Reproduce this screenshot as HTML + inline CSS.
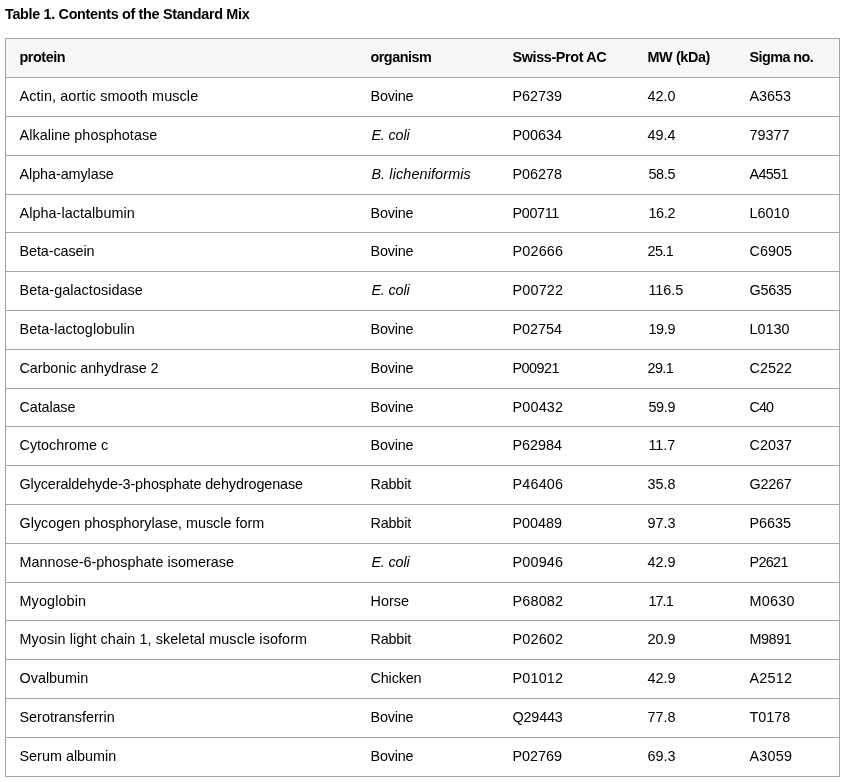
<!DOCTYPE html>
<html><head><meta charset="utf-8"><style>
html,body{margin:0;padding:0;background:#fff;}
body{width:845px;height:782px;position:relative;overflow:hidden;}
#w{position:absolute;left:0;top:0;width:845px;height:782px;will-change:transform;font-family:"Liberation Sans",sans-serif;color:#000;}
.t{position:absolute;white-space:nowrap;font-size:14.4px;line-height:20px;}
.b{font-weight:bold;}
.i{font-style:italic;}
.h{position:absolute;left:5px;width:835px;height:1px;background:#a4a5a9;}
.v{position:absolute;top:38px;width:1px;height:739px;background:#a4a5a9;}

</style></head><body><div id="w">
<div id="title" class="t b" style="left:5px;top:4px;letter-spacing:-0.325px;font-size:14.4px;color:#000">Table 1. Contents of the Standard Mix</div>
<div style="position:absolute;left:6px;top:39px;width:833px;height:38px;background:#f7f7f7"></div>
<div class="h" style="top:38px"></div>
<div class="h" style="top:77px"></div>
<div class="h" style="top:116px"></div>
<div class="h" style="top:155px"></div>
<div class="h" style="top:194px"></div>
<div class="h" style="top:232px"></div>
<div class="h" style="top:271px"></div>
<div class="h" style="top:310px"></div>
<div class="h" style="top:349px"></div>
<div class="h" style="top:388px"></div>
<div class="h" style="top:426px"></div>
<div class="h" style="top:465px"></div>
<div class="h" style="top:504px"></div>
<div class="h" style="top:543px"></div>
<div class="h" style="top:582px"></div>
<div class="h" style="top:620px"></div>
<div class="h" style="top:659px"></div>
<div class="h" style="top:698px"></div>
<div class="h" style="top:737px"></div>
<div class="h" style="top:776px"></div>
<div class="v" style="left:5px"></div><div class="v" style="left:839px"></div>
<div id="h0" class="t b" style="left:19.5px;top:47px;letter-spacing:-0.45px">protein</div>
<div id="h1" class="t b" style="left:370.5px;top:47px;letter-spacing:-0.514px">organism</div>
<div id="h2" class="t b" style="left:512.5px;top:47px;letter-spacing:-0.375px">Swiss-Prot AC</div>
<div id="h3" class="t b" style="left:647.5px;top:47px;letter-spacing:-0.386px">MW (kDa)</div>
<div id="h4" class="t b" style="left:749.5px;top:47px;letter-spacing:-0.562px">Sigma no.</div>
<div id="r0c0" class="t " style="left:19.5px;top:86px;letter-spacing:0.104px">Actin, aortic smooth muscle</div>
<div id="r0c1" class="t " style="left:370.5px;top:86px;letter-spacing:-0.18px">Bovine</div>
<div id="r0c2" class="t " style="left:512.5px;top:86px">P62739</div>
<div id="r0c3" class="t " style="left:647.5px;top:86px">42.0</div>
<div id="r0c4" class="t " style="left:749.5px;top:86px">A3653</div>
<div id="r1c0" class="t " style="left:19.5px;top:125px;letter-spacing:0.047px">Alkaline phosphotase</div>
<div id="r1c1" class="t i" style="left:371.4px;top:125px;letter-spacing:-0.15px">E. coli</div>
<div id="r1c2" class="t " style="left:512.5px;top:125px">P00634</div>
<div id="r1c3" class="t " style="left:647.5px;top:125px">49.4</div>
<div id="r1c4" class="t " style="left:749.5px;top:125px">79377</div>
<div id="r2c0" class="t " style="left:19.5px;top:164px;letter-spacing:-0.075px">Alpha-amylase</div>
<div id="r2c1" class="t i" style="left:371.4px;top:164px;letter-spacing:0.12px">B. licheniformis</div>
<div id="r2c2" class="t " style="left:512.5px;top:164px">P06278</div>
<div id="r2c3" class="t " style="left:648.4px;top:164px;letter-spacing:-0.3px">58.5</div>
<div id="r2c4" class="t " style="left:749.5px;top:164px;letter-spacing:-0.675px">A4551</div>
<div id="r3c0" class="t " style="left:19.5px;top:203px;letter-spacing:0.056px">Alpha-lactalbumin</div>
<div id="r3c1" class="t " style="left:370.5px;top:203px;letter-spacing:-0.18px">Bovine</div>
<div id="r3c2" class="t " style="left:512.5px;top:203px;letter-spacing:-0.36px">P00711</div>
<div id="r3c3" class="t " style="left:648.4px;top:203px;letter-spacing:-0.3px">16.2</div>
<div id="r3c4" class="t " style="left:749.5px;top:203px">L6010</div>
<div id="r4c0" class="t " style="left:19.5px;top:241px;letter-spacing:-0.09px">Beta-casein</div>
<div id="r4c1" class="t " style="left:370.5px;top:241px;letter-spacing:-0.18px">Bovine</div>
<div id="r4c2" class="t " style="left:512.5px;top:241px;letter-spacing:0.18px">P02666</div>
<div id="r4c3" class="t " style="left:647.5px;top:241px;letter-spacing:-0.6px">25.1</div>
<div id="r4c4" class="t " style="left:749.5px;top:241px">C6905</div>
<div id="r5c0" class="t " style="left:19.5px;top:280px;letter-spacing:0.053px">Beta-galactosidase</div>
<div id="r5c1" class="t i" style="left:371.4px;top:280px;letter-spacing:-0.15px">E. coli</div>
<div id="r5c2" class="t " style="left:512.5px;top:280px;letter-spacing:0.18px">P00722</div>
<div id="r5c3" class="t " style="left:648.4px;top:280px">116.5</div>
<div id="r5c4" class="t " style="left:749.5px;top:280px;letter-spacing:-0.225px">G5635</div>
<div id="r6c0" class="t " style="left:19.5px;top:319px;letter-spacing:0.053px">Beta-lactoglobulin</div>
<div id="r6c1" class="t " style="left:370.5px;top:319px;letter-spacing:-0.18px">Bovine</div>
<div id="r6c2" class="t " style="left:512.5px;top:319px">P02754</div>
<div id="r6c3" class="t " style="left:648.4px;top:319px;letter-spacing:-0.3px">19.9</div>
<div id="r6c4" class="t " style="left:749.5px;top:319px">L0130</div>
<div id="r7c0" class="t " style="left:19.5px;top:358px;letter-spacing:-0.095px">Carbonic anhydrase 2</div>
<div id="r7c1" class="t " style="left:370.5px;top:358px;letter-spacing:-0.18px">Bovine</div>
<div id="r7c2" class="t " style="left:512.5px;top:358px;letter-spacing:-0.54px">P00921</div>
<div id="r7c3" class="t " style="left:647.5px;top:358px;letter-spacing:-0.6px">29.1</div>
<div id="r7c4" class="t " style="left:749.5px;top:358px">C2522</div>
<div id="r8c0" class="t " style="left:19.5px;top:397px;letter-spacing:-0.129px">Catalase</div>
<div id="r8c1" class="t " style="left:370.5px;top:397px;letter-spacing:-0.18px">Bovine</div>
<div id="r8c2" class="t " style="left:512.5px;top:397px;letter-spacing:0.18px">P00432</div>
<div id="r8c3" class="t " style="left:648.4px;top:397px;letter-spacing:-0.3px">59.9</div>
<div id="r8c4" class="t " style="left:749.5px;top:397px;letter-spacing:-0.9px">C40</div>
<div id="r9c0" class="t " style="left:19.5px;top:435px">Cytochrome c</div>
<div id="r9c1" class="t " style="left:370.5px;top:435px;letter-spacing:-0.18px">Bovine</div>
<div id="r9c2" class="t " style="left:512.5px;top:435px">P62984</div>
<div id="r9c3" class="t " style="left:648.4px;top:435px">11.7</div>
<div id="r9c4" class="t " style="left:749.5px;top:435px">C2037</div>
<div id="r10c0" class="t " style="left:19.5px;top:474px;letter-spacing:-0.115px">Glyceraldehyde-3-phosphate dehydrogenase</div>
<div id="r10c1" class="t " style="left:370.5px;top:474px;letter-spacing:-0.18px">Rabbit</div>
<div id="r10c2" class="t " style="left:512.5px;top:474px;letter-spacing:0.18px">P46406</div>
<div id="r10c3" class="t " style="left:647.5px;top:474px">35.8</div>
<div id="r10c4" class="t " style="left:749.5px;top:474px;letter-spacing:-0.225px">G2267</div>
<div id="r11c0" class="t " style="left:19.5px;top:513px">Glycogen phosphorylase, muscle form</div>
<div id="r11c1" class="t " style="left:370.5px;top:513px;letter-spacing:-0.18px">Rabbit</div>
<div id="r11c2" class="t " style="left:512.5px;top:513px">P00489</div>
<div id="r11c3" class="t " style="left:647.5px;top:513px">97.3</div>
<div id="r11c4" class="t " style="left:749.5px;top:513px">P6635</div>
<div id="r12c0" class="t " style="left:19.5px;top:552px">Mannose-6-phosphate isomerase</div>
<div id="r12c1" class="t i" style="left:371.4px;top:552px;letter-spacing:-0.15px">E. coli</div>
<div id="r12c2" class="t " style="left:512.5px;top:552px;letter-spacing:0.18px">P00946</div>
<div id="r12c3" class="t " style="left:647.5px;top:552px">42.9</div>
<div id="r12c4" class="t " style="left:749.5px;top:552px;letter-spacing:-0.675px">P2621</div>
<div id="r13c0" class="t " style="left:19.5px;top:591px;letter-spacing:0.113px">Myoglobin</div>
<div id="r13c1" class="t " style="left:370.5px;top:591px">Horse</div>
<div id="r13c2" class="t " style="left:512.5px;top:591px;letter-spacing:0.18px">P68082</div>
<div id="r13c3" class="t " style="left:648.4px;top:591px;letter-spacing:-0.9px">17.1</div>
<div id="r13c4" class="t " style="left:749.5px;top:591px;letter-spacing:0.225px">M0630</div>
<div id="r14c0" class="t " style="left:19.5px;top:629px;letter-spacing:0.082px">Myosin light chain 1, skeletal muscle isoform</div>
<div id="r14c1" class="t " style="left:370.5px;top:629px;letter-spacing:-0.18px">Rabbit</div>
<div id="r14c2" class="t " style="left:512.5px;top:629px;letter-spacing:0.18px">P02602</div>
<div id="r14c3" class="t " style="left:647.5px;top:629px">20.9</div>
<div id="r14c4" class="t " style="left:749.5px;top:629px;letter-spacing:-0.45px">M9891</div>
<div id="r15c0" class="t " style="left:19.5px;top:668px">Ovalbumin</div>
<div id="r15c1" class="t " style="left:370.5px;top:668px;letter-spacing:-0.15px">Chicken</div>
<div id="r15c2" class="t " style="left:512.5px;top:668px;letter-spacing:0.18px">P01012</div>
<div id="r15c3" class="t " style="left:647.5px;top:668px">42.9</div>
<div id="r15c4" class="t " style="left:749.5px;top:668px;letter-spacing:0.225px">A2512</div>
<div id="r16c0" class="t " style="left:19.5px;top:707px">Serotransferrin</div>
<div id="r16c1" class="t " style="left:370.5px;top:707px;letter-spacing:-0.18px">Bovine</div>
<div id="r16c2" class="t " style="left:512.5px;top:707px;letter-spacing:-0.18px">Q29443</div>
<div id="r16c3" class="t " style="left:647.5px;top:707px">77.8</div>
<div id="r16c4" class="t " style="left:749.5px;top:707px">T0178</div>
<div id="r17c0" class="t " style="left:19.5px;top:746px">Serum albumin</div>
<div id="r17c1" class="t " style="left:370.5px;top:746px;letter-spacing:-0.18px">Bovine</div>
<div id="r17c2" class="t " style="left:512.5px;top:746px">P02769</div>
<div id="r17c3" class="t " style="left:647.5px;top:746px">69.3</div>
<div id="r17c4" class="t " style="left:749.5px;top:746px;letter-spacing:0.225px">A3059</div>
</div></body></html>
